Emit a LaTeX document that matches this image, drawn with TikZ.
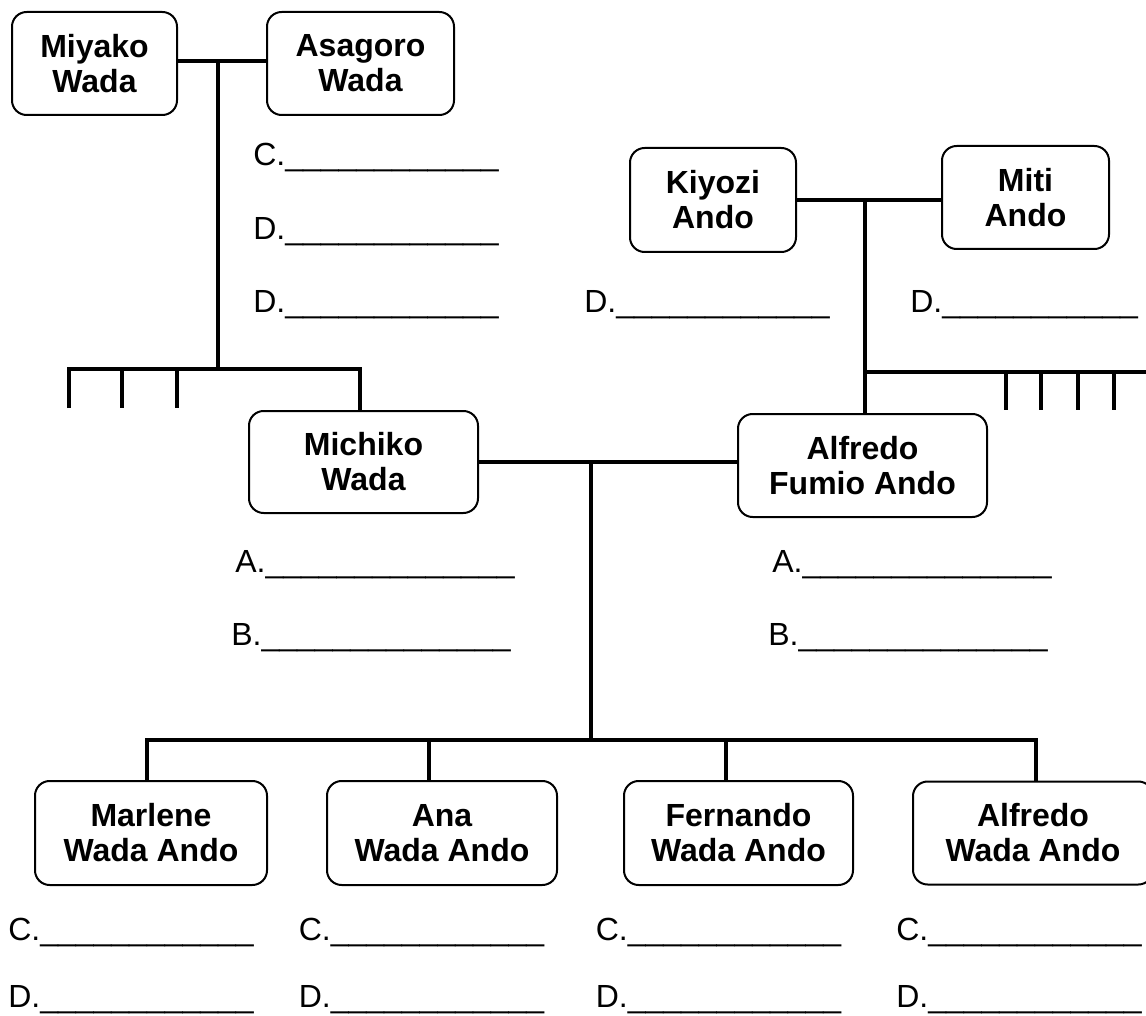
\documentclass[tikz,border=0pt]{standalone}
\usepackage{fontspec}
\setmainfont{Liberation Sans}
\begin{document}
\begin{tikzpicture}[x=0.75pt,y=-0.75pt,
  person/.style={draw, line width=1.5pt, rounded corners=11pt, align=center, inner sep=0pt,
    font=\bfseries\fontsize{24}{26.25}\selectfont},
  boxsize/.style 2 args={minimum width=#1*0.75pt, minimum height=#2*0.75pt},
  blank/.style={anchor=base west, inner sep=0pt, font=\fontsize{24}{26}\selectfont},
  link/.style={line width=3pt}]
\useasboundingbox (0,0) rectangle (1146,1016);

% persons
\node[person, boxsize={165}{103}] (miyako)  at (94.5,63.5)  {Miyako\\Wada};
\node[person, boxsize={187}{103}] (asagoro) at (360.5,63.5) {Asagoro\\Wada};
\node[person, boxsize={166}{104}] (kiyozi)  at (713,200)    {Kiyozi\\Ando};
\node[person, boxsize={167}{103}] (miti)    at (1025.5,197.5) {Miti\\Ando};
\node[person, boxsize={229}{102}] (michiko) at (363.5,462)  {Michiko\\Wada};
\node[person, boxsize={249}{103}] (alfredo) at (862.5,465.5) {Alfredo\\Fumio Ando};
\node[person, boxsize={232}{104}] (marlene) at (151,833)    {Marlene\\Wada Ando};
\node[person, boxsize={230}{104}] (ana)     at (442,833)    {Ana\\Wada Ando};
\node[person, boxsize={229}{104}] (fernando) at (738.5,833) {Fernando\\Wada Ando};
\node[person, boxsize={240}{103}] (alfredow) at (1033,833)  {Alfredo\\Wada Ando};

% blanks
\node[blank] (l1) at (253,166) {C.\_\_\_\_\_\_\_\_\_\_\_\_};
\node[blank] (l2) at (253,240) {D.\_\_\_\_\_\_\_\_\_\_\_\_};
\node[blank] (l3) at (253,313) {D.\_\_\_\_\_\_\_\_\_\_\_\_};
\node[blank] (l4) at (584,313) {D.\_\_\_\_\_\_\_\_\_\_\_\_};
\node[blank] (l5) at (910,313) {D.\_\_\_\_\_\_\_\_\_\_\_};
\node[blank] (l6) at (235,572) {A.\_\_\_\_\_\_\_\_\_\_\_\_\_\_};
\node[blank] (l7) at (231,645) {B.\_\_\_\_\_\_\_\_\_\_\_\_\_\_};
\node[blank] (l8) at (772,572) {A.\_\_\_\_\_\_\_\_\_\_\_\_\_\_};
\node[blank] (l9) at (768,645) {B.\_\_\_\_\_\_\_\_\_\_\_\_\_\_};
\node[blank] (c1) at (8,940)     {C.\_\_\_\_\_\_\_\_\_\_\_\_};
\node[blank] (d1) at (8,1007)    {D.\_\_\_\_\_\_\_\_\_\_\_\_};
\node[blank] (c2) at (298.5,940) {C.\_\_\_\_\_\_\_\_\_\_\_\_};
\node[blank] (d2) at (298.5,1007) {D.\_\_\_\_\_\_\_\_\_\_\_\_};
\node[blank] (c3) at (595.5,940) {C.\_\_\_\_\_\_\_\_\_\_\_\_};
\node[blank] (d3) at (595.5,1007) {D.\_\_\_\_\_\_\_\_\_\_\_\_};
\node[blank] (c4) at (896,940)   {C.\_\_\_\_\_\_\_\_\_\_\_\_};
\node[blank] (d4) at (896,1007)  {D.\_\_\_\_\_\_\_\_\_\_\_\_};

% Wada family connectors
\coordinate (wj) at (218,61);
\coordinate (wb) at (218,369);
\coordinate (wl) at (69,369);
\coordinate (wr) at (360,369);
\coordinate (w1) at (69,408);
\coordinate (w2t) at (122,369);
\coordinate (w2) at (122,408);
\coordinate (w3t) at (177,369);
\coordinate (w3) at (177,408);
\draw[link] (miyako.east |- wj) -- (asagoro.west |- wj);
\draw[link] (wj) -- (wb);
\draw[link] (w1) -- (wl) -- (wr) -- (wr |- michiko.north);
\draw[link] (w2t) -- (w2);
\draw[link] (w3t) -- (w3);

% Ando family connectors
\coordinate (aj) at (865,200);
\coordinate (ab) at (865,372);
\coordinate (ae) at (1150,372);
\draw[link] (kiyozi.east |- aj) -- (miti.west |- aj);
\draw[link] (aj) -- (aj |- alfredo.north);
\draw[link] (ab) -- (ae);
\foreach \x [count=\i] in {1005.5,1041,1077.5,1114}{
  \coordinate (at\i) at (\x,372);
  \coordinate (ad\i) at (\x,410);
  \draw[link] (at\i) -- (ad\i);
}

% couple and children
\coordinate (cj) at (591,462);
\coordinate (cb) at (591,740);
\coordinate (cl) at (147,740);
\coordinate (cr) at (1036,740);
\draw[link] (michiko.east |- cj) -- (alfredo.west |- cj);
\draw[link] (cj) -- (cb);
\draw[link] (cl |- marlene.north) -- (cl) -- (cr) -- (cr |- alfredow.north);
\draw[link] (429,740) -- (429,740 |- ana.north);
\draw[link] (725.5,740) -- (725.5,740 |- fernando.north);
\end{tikzpicture}
\end{document}
